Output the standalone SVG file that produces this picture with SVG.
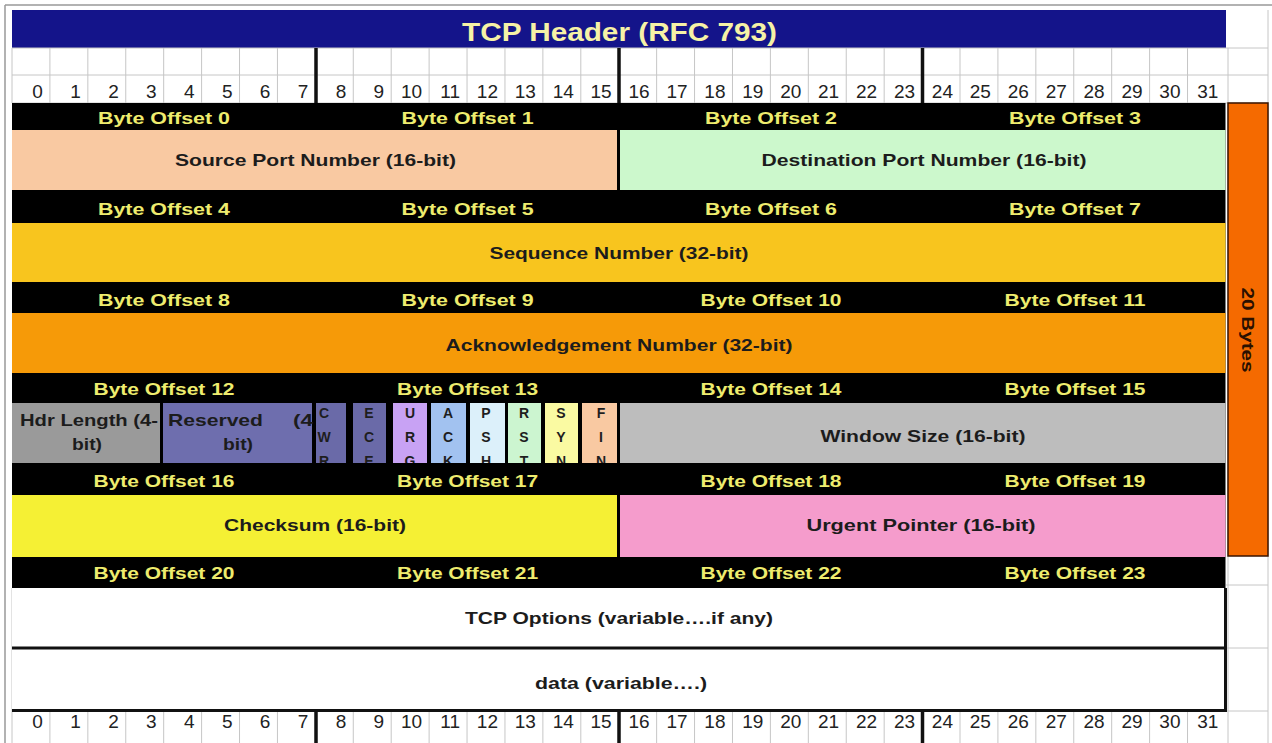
<svg xmlns="http://www.w3.org/2000/svg" width="1272" height="743" viewBox="0 0 1272 743">
<style>
.bo{fill:#eeec6e;font-family:"Liberation Sans",Arial,sans-serif;font-weight:bold;font-size:17px;text-anchor:middle}
.fld{fill:#1c1c1c;font-family:"Liberation Sans",Arial,sans-serif;font-weight:bold;font-size:17px;text-anchor:middle}
.num{fill:#222;font-family:"Liberation Sans",Arial,sans-serif;font-size:19px;text-anchor:end}
.flag{fill:#1e1e1e;font-family:"Liberation Sans",Arial,sans-serif;font-weight:bold;font-size:14px;text-anchor:middle}
.grid{stroke:#c6c6c6;stroke-width:1;fill:none}
.thick{stroke:#111;stroke-width:3.5;fill:none}
.box{stroke:#111;stroke-width:3;fill:none}
</style>
<defs>
<clipPath id="flagclip"><rect x="300" y="403" width="330" height="60"/></clipPath>
</defs>
<rect x="0" y="0" width="1272" height="743" fill="#fff"/>
<!-- frame -->
<g id="frame">
<line x1="5" y1="5" x2="1272" y2="5" stroke="#999" stroke-width="1.5"/>
<line x1="5" y1="5" x2="5" y2="743" stroke="#999" stroke-width="1.5"/>
</g>
<!-- title -->
<g id="title">
<rect x="12" y="10" width="1214" height="38" fill="#14148a"/>
<text x="619.5" y="40.5" fill="#f6f2a6" font-family="Liberation Sans,Arial,sans-serif" font-weight="bold" font-size="25" text-anchor="middle" textLength="315" lengthAdjust="spacingAndGlyphs">TCP Header (RFC 793)</text>
</g>
<!-- grid -->
<g id="grid">
<path class="grid" d="M12 48H1268M12 75H1268M12 103H1268M1226 585H1268M1226 648H1268M1226 711H1268M1228 48V743M1268 10V743M12 48V103M12 588V743"/>
<path class="grid" d="M49.92 48V103M87.84 48V103M125.76 48V103M163.68 48V103M201.6 48V103M239.52 48V103M277.44 48V103M353.28 48V103M391.2 48V103M429.12 48V103M467.04 48V103M504.96 48V103M542.88 48V103M580.8 48V103M656.64 48V103M694.56 48V103M732.48 48V103M770.4 48V103M808.32 48V103M846.24 48V103M884.16 48V103M960 48V103M997.92 48V103M1035.84 48V103M1073.76 48V103M1111.68 48V103M1149.6 48V103M1187.52 48V103"/>
<path class="grid" d="M49.92 711V743M87.84 711V743M125.76 711V743M163.68 711V743M201.6 711V743M239.52 711V743M277.44 711V743M353.28 711V743M391.2 711V743M429.12 711V743M467.04 711V743M504.96 711V743M542.88 711V743M580.8 711V743M656.64 711V743M694.56 711V743M732.48 711V743M770.4 711V743M808.32 711V743M846.24 711V743M884.16 711V743M960 711V743M997.92 711V743M1035.84 711V743M1073.76 711V743M1111.68 711V743M1149.6 711V743M1187.52 711V743"/>
<path class="thick" d="M316 48V103M619 48V103M922.5 48V103M316 711V743M619 711V743M922.5 711V743"/>
</g>
<!-- bit numbers top -->
<g id="bits-top">
<text class="num" x="42.9" y="98">0</text><text class="num" x="80.8" y="98">1</text><text class="num" x="118.8" y="98">2</text><text class="num" x="156.7" y="98">3</text><text class="num" x="194.6" y="98">4</text><text class="num" x="232.5" y="98">5</text><text class="num" x="270.4" y="98">6</text><text class="num" x="308.4" y="98">7</text><text class="num" x="346.3" y="98">8</text><text class="num" x="384.2" y="98">9</text><text class="num" x="422.1" y="98">10</text><text class="num" x="460" y="98">11</text><text class="num" x="498" y="98">12</text><text class="num" x="535.9" y="98">13</text><text class="num" x="573.8" y="98">14</text><text class="num" x="611.7" y="98">15</text><text class="num" x="649.6" y="98">16</text><text class="num" x="687.6" y="98">17</text><text class="num" x="725.5" y="98">18</text><text class="num" x="763.4" y="98">19</text><text class="num" x="801.3" y="98">20</text><text class="num" x="839.2" y="98">21</text><text class="num" x="877.2" y="98">22</text><text class="num" x="915.1" y="98">23</text><text class="num" x="953" y="98">24</text><text class="num" x="990.9" y="98">25</text><text class="num" x="1028.8" y="98">26</text><text class="num" x="1066.8" y="98">27</text><text class="num" x="1104.7" y="98">28</text><text class="num" x="1142.6" y="98">29</text><text class="num" x="1180.5" y="98">30</text><text class="num" x="1218.4" y="98">31</text>
</g>
<!-- header body background (black offset bars) -->
<g id="offset-bars">
<rect x="12" y="103" width="1213.5" height="485" fill="#000"/>
</g>
<g id="source-port"><rect x="12" y="130" width="605" height="60" fill="#f9c9a2"/><text class="fld" x="315.5" y="166" textLength="281" lengthAdjust="spacingAndGlyphs">Source Port Number (16-bit)</text></g>
<g id="dest-port"><rect x="620" y="130" width="605.5" height="60" fill="#ccf8cc"/><text class="fld" x="924" y="166" textLength="325" lengthAdjust="spacingAndGlyphs">Destination Port Number (16-bit)</text></g>
<g id="sequence"><rect x="12" y="223" width="1213.5" height="59" fill="#f8c51e"/><text class="fld" x="619" y="259" textLength="259" lengthAdjust="spacingAndGlyphs">Sequence Number (32-bit)</text></g>
<g id="ack"><rect x="12" y="313" width="1213.5" height="60" fill="#f69a08"/><text class="fld" x="619" y="351" textLength="347" lengthAdjust="spacingAndGlyphs">Acknowledgement Number (32-bit)</text></g>
<g id="hdr-length"><rect x="12" y="403" width="148" height="60" fill="#9a9a9a"/><text class="fld" x="20" y="426" style="text-anchor:start" textLength="138" lengthAdjust="spacingAndGlyphs">Hdr Length (4-</text><text class="fld" x="87" y="450" textLength="30" lengthAdjust="spacingAndGlyphs">bit)</text></g>
<g id="reserved"><rect x="163" y="403" width="149" height="60" fill="#6e6eae"/><text class="fld" x="168" y="426" style="text-anchor:start" textLength="95" lengthAdjust="spacingAndGlyphs">Reserved</text><text class="fld" x="313" y="426" style="text-anchor:end" textLength="20" lengthAdjust="spacingAndGlyphs">(4</text><text class="fld" x="238" y="450" textLength="30" lengthAdjust="spacingAndGlyphs">bit)</text></g>
<g id="flags" clip-path="url(#flagclip)">
<g id="flag-cwr"><rect x="316" y="403" width="30" height="60" fill="#6a6aa8"/><text class="flag" x="324" y="418">C</text><text class="flag" x="324" y="442">W</text><text class="flag" x="324" y="466">R</text></g>
<g id="flag-ece"><rect x="353" y="403" width="33" height="60" fill="#6a6aa8"/><text class="flag" x="369" y="418">E</text><text class="flag" x="369" y="442">C</text><text class="flag" x="369" y="466">E</text></g>
<g id="flag-urg"><rect x="393" y="403" width="34" height="60" fill="#c8a2f4"/><text class="flag" x="410" y="418">U</text><text class="flag" x="410" y="442">R</text><text class="flag" x="410" y="466">G</text></g>
<g id="flag-ack"><rect x="431" y="403" width="35" height="60" fill="#a2c2f0"/><text class="flag" x="448" y="418">A</text><text class="flag" x="448" y="442">C</text><text class="flag" x="448" y="466">K</text></g>
<g id="flag-psh"><rect x="470" y="403" width="35" height="60" fill="#dcf0fa"/><text class="flag" x="486" y="418">P</text><text class="flag" x="486" y="442">S</text><text class="flag" x="486" y="466">H</text></g>
<g id="flag-rst"><rect x="508" y="403" width="33" height="60" fill="#ccf5d0"/><text class="flag" x="524" y="418">R</text><text class="flag" x="524" y="442">S</text><text class="flag" x="524" y="466">T</text></g>
<g id="flag-syn"><rect x="545" y="403" width="33" height="60" fill="#fafaa2"/><text class="flag" x="561" y="418">S</text><text class="flag" x="561" y="442">Y</text><text class="flag" x="561" y="466">N</text></g>
<g id="flag-fin"><rect x="582" y="403" width="35" height="60" fill="#f9c9a2"/><text class="flag" x="601" y="418">F</text><text class="flag" x="601" y="442">I</text><text class="flag" x="601" y="466">N</text></g>
</g>
<g id="window"><rect x="620" y="403" width="605.5" height="60" fill="#bdbdbd"/><text class="fld" x="923" y="442" textLength="205" lengthAdjust="spacingAndGlyphs">Window Size (16-bit)</text></g>
<g id="checksum"><rect x="12" y="495" width="605" height="62" fill="#f5f034"/><text class="fld" x="315" y="531" textLength="182" lengthAdjust="spacingAndGlyphs">Checksum (16-bit)</text></g>
<g id="urgent"><rect x="620" y="495" width="605.5" height="62" fill="#f59ccc"/><text class="fld" x="921" y="531" textLength="229" lengthAdjust="spacingAndGlyphs">Urgent Pointer (16-bit)</text></g>
<!-- byte offset labels -->
<g id="byte-offsets">
<text class="bo" x="164" y="124" textLength="132" lengthAdjust="spacingAndGlyphs">Byte Offset 0</text><text class="bo" x="467.6" y="124" textLength="132" lengthAdjust="spacingAndGlyphs">Byte Offset 1</text><text class="bo" x="771" y="124" textLength="132" lengthAdjust="spacingAndGlyphs">Byte Offset 2</text><text class="bo" x="1075" y="124" textLength="132" lengthAdjust="spacingAndGlyphs">Byte Offset 3</text>
<text class="bo" x="164" y="215" textLength="132" lengthAdjust="spacingAndGlyphs">Byte Offset 4</text><text class="bo" x="467.6" y="215" textLength="132" lengthAdjust="spacingAndGlyphs">Byte Offset 5</text><text class="bo" x="771" y="215" textLength="132" lengthAdjust="spacingAndGlyphs">Byte Offset 6</text><text class="bo" x="1075" y="215" textLength="132" lengthAdjust="spacingAndGlyphs">Byte Offset 7</text>
<text class="bo" x="164" y="306" textLength="132" lengthAdjust="spacingAndGlyphs">Byte Offset 8</text><text class="bo" x="467.6" y="306" textLength="132" lengthAdjust="spacingAndGlyphs">Byte Offset 9</text><text class="bo" x="771" y="306" textLength="141" lengthAdjust="spacingAndGlyphs">Byte Offset 10</text><text class="bo" x="1075" y="306" textLength="141" lengthAdjust="spacingAndGlyphs">Byte Offset 11</text>
<text class="bo" x="164" y="395" textLength="141" lengthAdjust="spacingAndGlyphs">Byte Offset 12</text><text class="bo" x="467.6" y="395" textLength="141" lengthAdjust="spacingAndGlyphs">Byte Offset 13</text><text class="bo" x="771" y="395" textLength="141" lengthAdjust="spacingAndGlyphs">Byte Offset 14</text><text class="bo" x="1075" y="395" textLength="141" lengthAdjust="spacingAndGlyphs">Byte Offset 15</text>
<text class="bo" x="164" y="487" textLength="141" lengthAdjust="spacingAndGlyphs">Byte Offset 16</text><text class="bo" x="467.6" y="487" textLength="141" lengthAdjust="spacingAndGlyphs">Byte Offset 17</text><text class="bo" x="771" y="487" textLength="141" lengthAdjust="spacingAndGlyphs">Byte Offset 18</text><text class="bo" x="1075" y="487" textLength="141" lengthAdjust="spacingAndGlyphs">Byte Offset 19</text>
<text class="bo" x="164" y="579" textLength="141" lengthAdjust="spacingAndGlyphs">Byte Offset 20</text><text class="bo" x="467.6" y="579" textLength="141" lengthAdjust="spacingAndGlyphs">Byte Offset 21</text><text class="bo" x="771" y="579" textLength="141" lengthAdjust="spacingAndGlyphs">Byte Offset 22</text><text class="bo" x="1075" y="579" textLength="141" lengthAdjust="spacingAndGlyphs">Byte Offset 23</text>
</g>
<g id="options"><rect x="12" y="588" width="1213.5" height="60" fill="#fff"/><text class="fld" x="619" y="624" textLength="308" lengthAdjust="spacingAndGlyphs">TCP Options (variable….if any)</text></g>
<g id="data"><rect x="12" y="649" width="1213.5" height="61" fill="#fff"/><text class="fld" x="621" y="689" textLength="172" lengthAdjust="spacingAndGlyphs">data (variable….)</text></g>
<g id="box-lines">
<path class="box" d="M12 648H1225.5M12 710.5H1225.5M1225.5 588V712"/>
</g>
<g id="size-bar"><rect x="1228" y="103" width="40" height="453" fill="#f56a00" stroke="#3a1500" stroke-width="1.5"/><text transform="translate(1242,330) rotate(90)" x="0" y="0" fill="#2a1000" font-family="Liberation Sans,Arial,sans-serif" font-weight="bold" font-size="16" text-anchor="middle" textLength="85" lengthAdjust="spacingAndGlyphs">20 Bytes</text></g>
<!-- bit numbers bottom -->
<g id="bits-bottom">
<text class="num" x="42.9" y="728">0</text><text class="num" x="80.8" y="728">1</text><text class="num" x="118.8" y="728">2</text><text class="num" x="156.7" y="728">3</text><text class="num" x="194.6" y="728">4</text><text class="num" x="232.5" y="728">5</text><text class="num" x="270.4" y="728">6</text><text class="num" x="308.4" y="728">7</text><text class="num" x="346.3" y="728">8</text><text class="num" x="384.2" y="728">9</text><text class="num" x="422.1" y="728">10</text><text class="num" x="460" y="728">11</text><text class="num" x="498" y="728">12</text><text class="num" x="535.9" y="728">13</text><text class="num" x="573.8" y="728">14</text><text class="num" x="611.7" y="728">15</text><text class="num" x="649.6" y="728">16</text><text class="num" x="687.6" y="728">17</text><text class="num" x="725.5" y="728">18</text><text class="num" x="763.4" y="728">19</text><text class="num" x="801.3" y="728">20</text><text class="num" x="839.2" y="728">21</text><text class="num" x="877.2" y="728">22</text><text class="num" x="915.1" y="728">23</text><text class="num" x="953" y="728">24</text><text class="num" x="990.9" y="728">25</text><text class="num" x="1028.8" y="728">26</text><text class="num" x="1066.8" y="728">27</text><text class="num" x="1104.7" y="728">28</text><text class="num" x="1142.6" y="728">29</text><text class="num" x="1180.5" y="728">30</text><text class="num" x="1218.4" y="728">31</text>
</g>
</svg>
